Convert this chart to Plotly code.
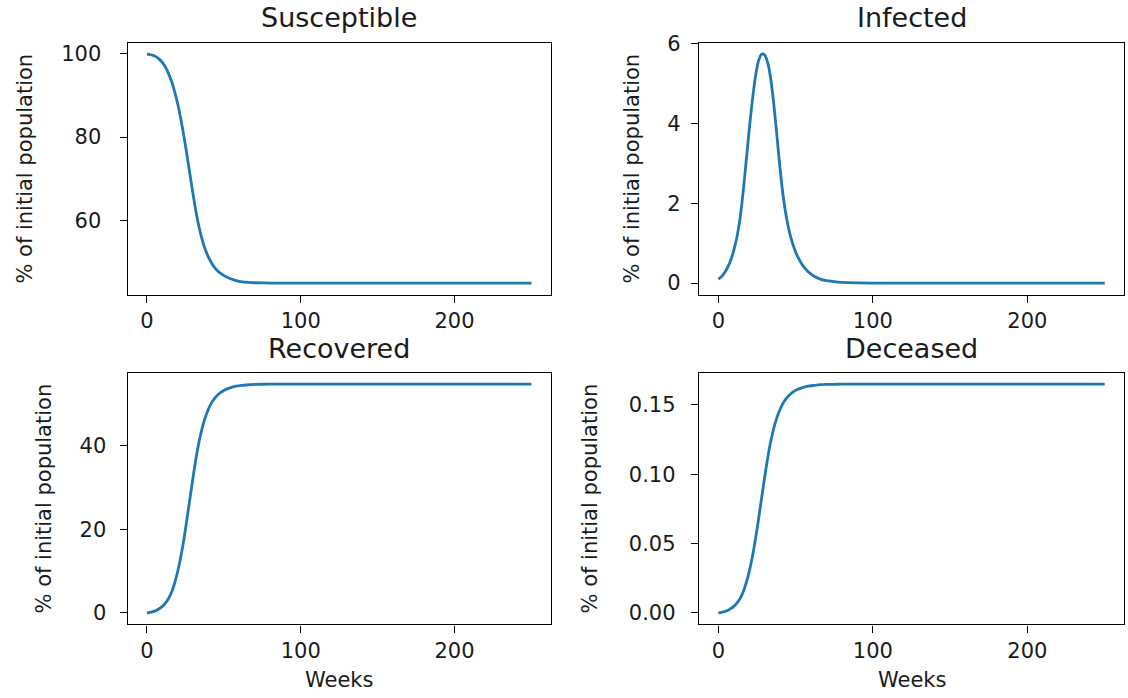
import plotly.graph_objects as go

# ---- data ----
weeks = [0, 2, 4, 6, 8, 10, 12, 14, 16, 18, 20, 22, 24, 26, 28, 30, 32, 34, 36, 38,
         40, 42, 44, 46, 48, 50, 54, 58, 62, 66, 70, 76, 84, 100, 150, 200, 250]

susceptible = [99.9, 99.8, 99.6, 99.25, 98.7, 97.9, 96.8, 95.3, 93.4, 90.9,
               88.0, 84.4, 80.3, 75.8, 71.0, 66.3, 61.9, 58.2, 55.3, 53.0,
               51.2, 49.8, 48.7, 47.9, 47.3, 46.8, 46.1, 45.6, 45.3, 45.15,
               45.07, 45.02, 45.0, 45.0, 45.0, 45.0, 45.0]

infected = [0.10, 0.16, 0.26, 0.39, 0.57, 0.82, 1.14, 1.60, 2.26, 3.05,
            3.85, 4.57, 5.17, 5.57, 5.74, 5.72, 5.52, 5.10, 4.45, 3.65,
            2.85, 2.17, 1.66, 1.28, 1.00, 0.78, 0.48, 0.29, 0.17, 0.10,
            0.06, 0.03, 0.01, 0.0, 0.0, 0.0, 0.0]

recovered = [0.0, 0.12, 0.30, 0.58, 0.98, 1.55, 2.35, 3.4, 4.95, 7.1,
             9.9, 13.4, 17.6, 22.4, 27.5, 32.5, 37.2, 41.2, 44.4, 46.9,
             48.8, 50.3, 51.4, 52.2, 52.8, 53.3, 53.9, 54.3, 54.5, 54.65,
             54.72, 54.77, 54.8, 54.8, 54.8, 54.8, 54.8]

deceased = [0.0, 0.0004, 0.0009, 0.0017, 0.0030, 0.0047, 0.0071, 0.0102, 0.0149, 0.0214,
            0.0298, 0.0403, 0.0530, 0.0674, 0.0828, 0.0979, 0.1120, 0.1241, 0.1337, 0.1412,
            0.1469, 0.1515, 0.1548, 0.1572, 0.1590, 0.1605, 0.1623, 0.1635, 0.1641, 0.1646,
            0.1648, 0.1649, 0.1650, 0.1650, 0.1650, 0.1650, 0.1650]

titles = ["Susceptible", "Infected", "Recovered", "Deceased"]
series = [susceptible, infected, recovered, deceased]
x_tick_vals = [0, 100, 200]
y_tick_vals = [[60, 80, 100], [0, 2, 4, 6], [0, 20, 40], [0.00, 0.05, 0.10, 0.15]]
y_tick_formats = ["d", "d", "d", ".2f"]
y_label = "% of initial population"
x_label = "Weeks"

# ---- layout geometry (pixels) ----
W, H = 1128, 698
col_x = [(127.7, 550.7), (699.0, 1124.0)]
row_y = [(42.7, 294.5), (372.7, 624.3)]
ylab_x = [25, 632, 43, 589]
title_y = [18, 18, 348, 348]
ytick_standoff = [14, 6, 9, 11]
FONT = "DejaVu Sans"
BLUE = "#1f77b4"
TXT = "#1a1a1a"


def margin_range(vals):
    lo, hi = min(vals), max(vals)
    pad = (hi - lo) * 0.05
    return [lo - pad, hi + pad]


fig = go.Figure()
annotations = []
for i, (name, ys) in enumerate(zip(titles, series)):
    r, c = divmod(i, 2)
    ax = "" if i == 0 else str(i + 1)
    fig.add_trace(go.Scatter(x=weeks, y=ys, mode="lines", xaxis="x" + ax, yaxis="y" + ax,
                             line=dict(color=BLUE, width=2.8, shape="spline", smoothing=0.8),
                             showlegend=False, hoverinfo="skip"))
    x0, x1 = col_x[c]
    y0, y1 = row_y[r]
    common = dict(showline=True, linecolor="black", linewidth=1.4, mirror=True,
                  ticks="outside", ticklen=7, tickwidth=1.3, tickcolor="black",
                  showgrid=False, zeroline=False, automargin=False,
                  tickfont=dict(family=FONT, size=21, color=TXT))
    fig.update_layout(**{
        "xaxis" + ax: dict(domain=[x0 / W, x1 / W], anchor="y" + ax,
                           range=margin_range(weeks), tickvals=x_tick_vals,
                           ticklabelstandoff=0, **common),
        "yaxis" + ax: dict(domain=[1 - y1 / H, 1 - y0 / H], anchor="x" + ax,
                           range=margin_range(ys), tickvals=y_tick_vals[i],
                           tickformat=y_tick_formats[i],
                           ticklabelstandoff=ytick_standoff[i], **common),
    })
    annotations.append(dict(text=name, xref="paper", yref="paper",
                            x=(x0 + x1) / 2 / W, y=1 - title_y[i] / H,
                            xanchor="center", yanchor="middle", showarrow=False,
                            font=dict(family=FONT, size=27, color=TXT)))
    annotations.append(dict(text=y_label, xref="paper", yref="paper",
                            x=ylab_x[i] / W, y=1 - (y0 + y1) / 2 / H, textangle=-90,
                            xanchor="center", yanchor="middle", showarrow=False,
                            font=dict(family=FONT, size=21, color=TXT)))
    if r == 1:
        annotations.append(dict(text=x_label, xref="paper", yref="paper",
                                x=(x0 + x1) / 2 / W, y=1 - 680 / H,
                                xanchor="center", yanchor="middle", showarrow=False,
                                font=dict(family=FONT, size=21, color=TXT)))

fig.update_layout(width=W, height=H,
                  margin=dict(l=0, r=0, t=0, b=0, pad=0, autoexpand=False),
                  paper_bgcolor="white", plot_bgcolor="white",
                  annotations=annotations)

fig.write_html("out.html")
